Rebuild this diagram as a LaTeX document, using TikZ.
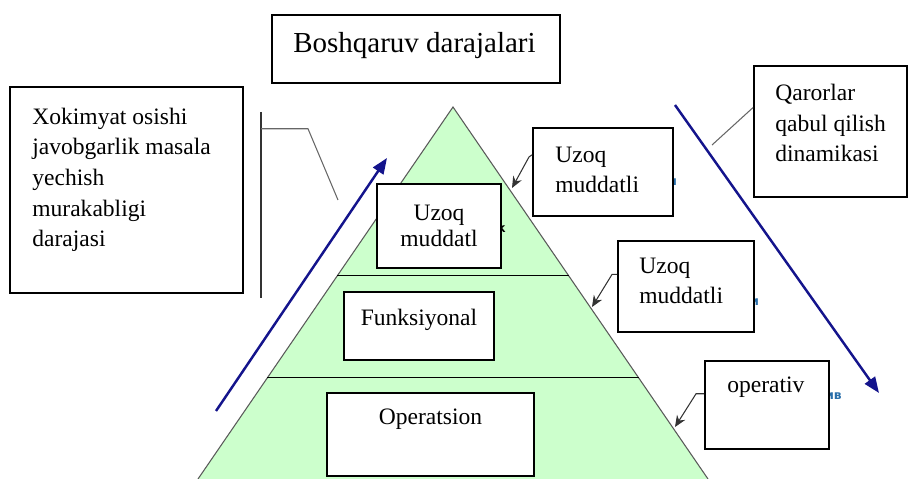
\documentclass[tikz,border=0pt]{standalone}
\usepackage{fontspec}
\setmainfont{Liberation Serif}
\newfontfamily\cyrfont{DejaVu Sans}
\usetikzlibrary{arrows.meta,calc,fit}
\definecolor{pyrgreen}{RGB}{204,255,204}
\definecolor{navyblue}{RGB}{20,20,140}
\definecolor{ghostblue}{RGB}{40,110,170}

\begin{document}
\begin{tikzpicture}[x=0.02cm,y=-0.02cm,
  box/.style={draw,line width=1.1pt,fill=white,inner sep=0pt},
  txt/.style={inner sep=0pt,font=\rmfamily\fontsize{13.4}{17.5}\selectfont},
  ghost/.style={inner sep=0pt,anchor=base west,text=ghostblue,font=\cyrfont\bfseries\fontsize{7}{8}\selectfont},
  callout/.style={draw=black!80,line width=0.6pt,-{Stealth[length=6.5pt,width=5.5pt]}},
  bluearrow/.style={draw=navyblue,line width=1.4pt,-{Triangle[length=9pt,width=7pt]}}]
\useasboundingbox (0,0) rectangle (910,479);

%Pyramid
\coordinate (apex) at (453,107);
\coordinate (bl) at (198,479);
\coordinate (br) at (708,479);
\fill[pyrgreen] (apex) -- (bl) -- (br) -- cycle;
\draw[black!65,line width=0.6pt] (bl) -- (apex) -- (br);
\draw[line width=0.5pt] ($(apex)!0.453!(bl)$) -- ($(apex)!0.453!(br)$);
\draw[line width=0.5pt] ($(apex)!0.728!(bl)$) -- ($(apex)!0.728!(br)$);

%Hidden text peeking out behind the boxes
\node[ghost] (g1) at (668,186) {и};
\node[ghost] (g2) at (750,306) {и};
\node[ghost] (g3) at (825,400) {ив};
\node[ghost,text=black] (g4) at (497,233) {к};

%Levels (base = last line)
\node[box,fit={(377,184) (501,268)}] (lvl1) {};
\node[txt,align=center,anchor=base] (lvl1t) at (439,247) {Uzoq\\[-2.3pt]muddatl};
\node[box,fit={(344,292) (494,360)}] (lvl2) {};
\node[txt,anchor=base] (lvl2t) at (419,326) {Funksiyonal};
\node[box,fit={(327,393) (534,476)}] (lvl3) {};
\node[txt,anchor=base] (lvl3t) at (430.5,425) {Operatsion};

%Title
\node[box,fit={(272,15) (560,83)}] (title) {};
\node[txt,anchor=base west,font=\rmfamily\fontsize{16.5}{20}\selectfont] (titlet) at (293,53) {Boshqaruv darajalari};

%Left box
\node[box,fit={(10,87) (243,293)}] (lbox) {};
\node[txt,align=left,anchor=base west] (lboxt) at (32,247) {Xokimyat osishi\\javobgarlik masala\\yechish\\murakabligi\\darajasi};

%Right boxes
\node[box,fit={(533,128) (673,216)}] (rbox1) {};
\node[txt,align=left,anchor=base west] (rbox1t) at (555,193) {Uzoq\\muddatli};
\node[box,fit={(618,241) (754,332)}] (rbox2) {};
\node[txt,align=left,anchor=base west] (rbox2t) at (639,304) {Uzoq\\muddatli};
\node[box,fit={(705,361) (829,449)}] (rbox3) {};
\node[txt,anchor=base west] (rbox3t) at (727,393) {operativ};
\node[box,fit={(754,66) (907,197)}] (qbox) {};
\node[txt,align=left,anchor=base west] (qboxt) at (775,162) {Qarorlar\\qabul qilish\\dinamikasi};

%Callouts
\coordinate (tip1) at (512,188);
\draw[callout] ($(rbox1.north west)!0.31!(rbox1.south west)$) -- ++(-3,2) -- (tip1);
\coordinate (tip2) at (592,307);
\draw[callout] ($(rbox2.north west)!0.37!(rbox2.south west)$) -- ++(-5,0) -- (tip2);
\coordinate (tip3) at (675,427);
\draw[callout] ($(rbox3.north west)!0.375!(rbox3.south west)$) -- ++(-8,0) -- (tip3);
\coordinate (qend) at (712,145);
\draw[black!60,line width=0.6pt] ($(qbox.north west)!0.32!(qbox.south west)$) -- (qend);

%Bracket
\coordinate (brtop) at (261,112);
\coordinate (brbot) at (261,298);
\coordinate (brend) at (338,200);
\draw[black!80,line width=0.6pt] (brtop) -- (brbot);
\draw[black!60,line width=0.6pt] ($(brtop)!0.09!(brbot)$) -- ++(47,0) -- (brend);

%Dynamics
\coordinate (up0) at (216,411);
\coordinate (up1) at (387,158);
\draw[bluearrow] (up0) -- (up1);
\coordinate (dn0) at (675,105);
\coordinate (dn1) at (879,393);
\draw[bluearrow] (dn0) -- (dn1);
\end{tikzpicture}
\end{document}
